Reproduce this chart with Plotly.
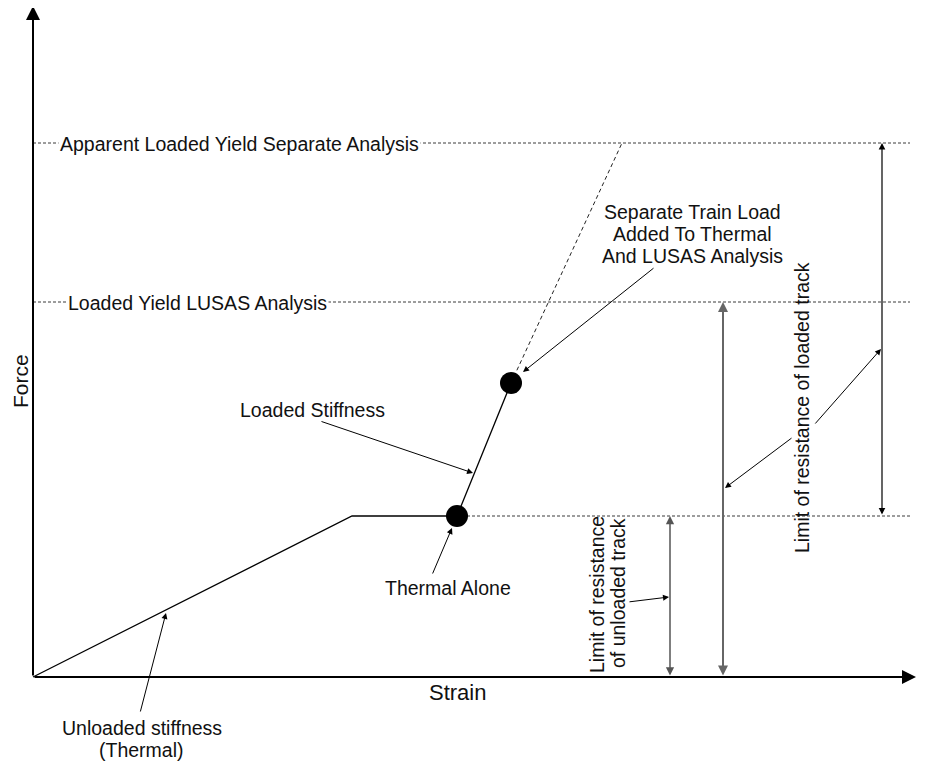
import plotly.graph_objects as go

# ---- schematic data (strain / force in drawing units, origin at 0,0) ----
unloaded_strain = [0, 319, 424]
unloaded_force = [0, 161, 161]
loaded_strain = [424, 478]
loaded_force = [161, 294]
extrap_strain = [478, 589]
extrap_force = [294, 534]
point_strain = [424, 478]
point_force = [161, 294]

thermal_yield = 161
lusas_yield = 375
apparent_yield = 534
dash_end = 877

unloaded_limit_x = 637
lusas_limit_x = 690
apparent_limit_x = 849

FONT = "Liberation Sans, Arial, sans-serif"
FS = 19.5

fig = go.Figure()

# dashed level lines
for lvl, x0 in [(apparent_yield, 0), (lusas_yield, 0), (thermal_yield, point_strain[0])]:
    fig.add_trace(go.Scatter(x=[x0, dash_end], y=[lvl, lvl], mode="lines",
                             line=dict(color="#3a3a3a", width=1, dash="3px,2px"),
                             hoverinfo="skip", showlegend=False))

# extrapolated dashed line
fig.add_trace(go.Scatter(x=extrap_strain, y=extrap_force, mode="lines",
                         line=dict(color="#222222", width=1, dash="4px,3px"),
                         hoverinfo="skip", showlegend=False))
# unloaded stiffness
fig.add_trace(go.Scatter(x=unloaded_strain, y=unloaded_force, mode="lines",
                         line=dict(color="black", width=1.3),
                         hoverinfo="skip", showlegend=False))
# loaded stiffness
fig.add_trace(go.Scatter(x=loaded_strain, y=loaded_force, mode="lines",
                         line=dict(color="black", width=1.3),
                         hoverinfo="skip", showlegend=False))
# points
fig.add_trace(go.Scatter(x=point_strain, y=point_force, mode="markers",
                         marker=dict(color="black", size=22),
                         hoverinfo="skip", showlegend=False))

ann = []

def arrow(x, y, ax, ay, color="black", width=1, head=2, size=1.2, side="end"):
    ann.append(dict(x=x, y=y, ax=ax, ay=ay, xref="x", yref="y", axref="x", ayref="y",
                    text="", showarrow=True, arrowhead=head, arrowsize=size,
                    arrowwidth=width, arrowcolor=color, arrowside=side, standoff=0,
                    startstandoff=0, startarrowhead=head, startarrowsize=size))

def label(x, y, text, angle=0, xanchor="center", size=FS, bg=None):
    d = dict(x=x, y=y, xref="x", yref="y", text=text, showarrow=False, textangle=angle,
             xanchor=xanchor, yanchor="middle",
             font=dict(family=FONT, size=size, color="#111111"))
    if bg:
        d["bgcolor"] = bg
        d["borderpad"] = 1
    ann.append(d)

# axes with arrow heads
arrow(0, 671, 0, 0, width=2, head=2, size=1.4)
arrow(883, 0, 0, 0, width=2, head=2, size=1.4)

# vertical double arrows
arrow(unloaded_limit_x, thermal_yield, unloaded_limit_x, 0, color="#555555", width=1.5, size=1.1, side="end+start")
arrow(lusas_limit_x, lusas_yield, lusas_limit_x, 0, color="#666666", width=2, size=1.0, side="end+start")
arrow(apparent_limit_x, apparent_yield, apparent_limit_x, thermal_yield, color="black", width=1.2, size=1.1, side="end+start")

# callout arrows
arrow(133, 64, 107, -36)
arrow(419, 149, 399, 102)
arrow(440, 204, 287, 256)
arrow(490, 305, 622, 410)
arrow(636, 80, 595, 75)
arrow(848, 328, 781, 252)
arrow(692, 189, 760, 240)

# texts
label(25, 533, "Apparent Loaded Yield Separate Analysis", xanchor="left", bg="white")
label(33, 374, "Loaded Yield LUSAS Analysis", xanchor="left", bg="white")
label(279, 267, "Loaded Stiffness")
label(415, 89, "Thermal Alone")
label(659, 465, "Separate Train Load")
label(659, 443, "Added To Thermal")
label(659, 421, "And LUSAS Analysis")
label(109, -51, "Unloaded stiffness")
label(108, -73, "(Thermal)")
label(564, 82, "Limit of resistance", angle=-90)
label(585, 84, "of unloaded track", angle=-90)
label(769, 269, "Limit of resistance of loaded track", angle=-90)
label(-13, 296, "Force", angle=-90, size=21)
label(424, -15, "Strain", size=22)

# page body has an 8px margin: ranges are set so the drawing lands where the reference has it
fig.update_layout(
    width=939, height=764, autosize=False,
    margin=dict(l=0, r=0, t=0, b=0),
    paper_bgcolor="white", plot_bgcolor="white",
    xaxis=dict(range=[-25, 914], visible=False, fixedrange=True),
    yaxis=dict(range=[-95, 669], visible=False, fixedrange=True),
    annotations=ann,
    showlegend=False,
)

fig.write_html("out.html")
